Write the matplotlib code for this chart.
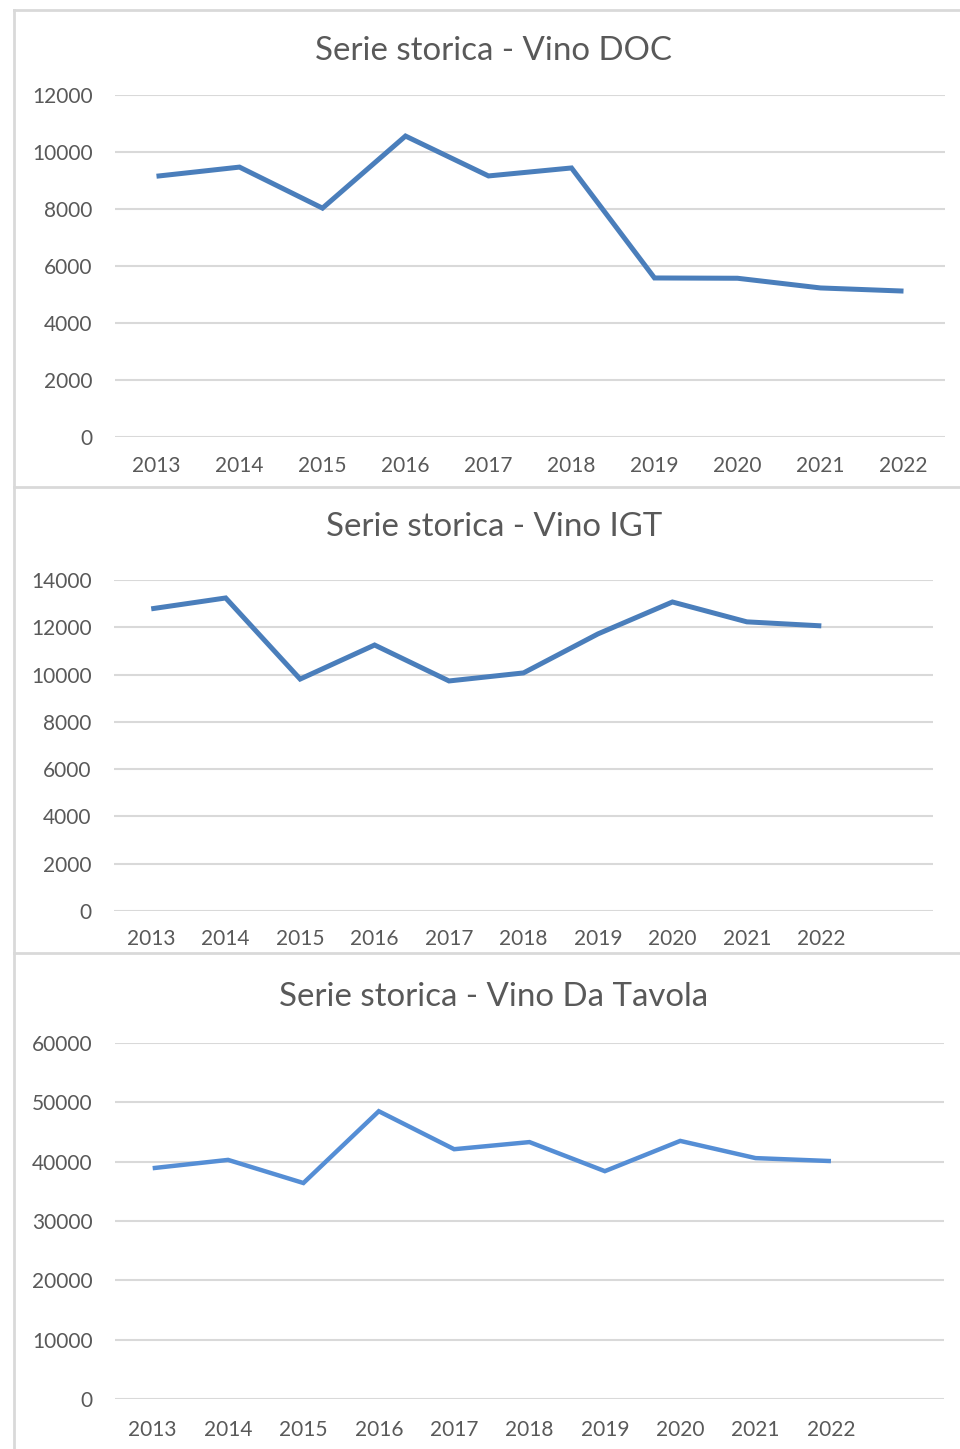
import matplotlib
matplotlib.use("Agg")
import matplotlib.pyplot as plt
from matplotlib.lines import Line2D

# Historical series (2013-2022)
years = ["2013", "2014", "2015", "2016", "2017", "2018", "2019", "2020", "2021", "2022"]
doc_values = [9150, 9470, 8030, 10560, 9160, 9440, 5580, 5570, 5230, 5120]
igt_values = [12780, 13240, 9810, 11250, 9730, 10070, 11720, 13070, 12230, 12060]
tavola_values = [38900, 40300, 36400, 48500, 42100, 43300, 38400, 43500, 40600, 40100]

titles = ["Serie storica - Vino DOC", "Serie storica - Vino IGT", "Serie storica - Vino Da Tavola"]

W, H = 960, 1449
FONT = ["Lato", "DejaVu Sans"]
TEXT = "#595959"
GRID = "#D9D9D9"

plt.rcParams["font.family"] = FONT

fig = plt.figure(figsize=(W / 100, H / 100), dpi=100)
fig.patch.set_facecolor("white")


def add_px_axes(x0, x1, y0, y1):
    return fig.add_axes([x0 / W, 1 - y1 / H, (x1 - x0) / W, (y1 - y0) / H])


def draw_chart(box, values, ymax, step, ncat, color, lw, title, title_y, tick_pad_x, tick_pad_y):
    x0, x1, y0, y1 = box
    ax = add_px_axes(x0, x1, y0, y1)
    ax.set_facecolor("none")
    xs = list(range(len(values)))
    ax.plot(xs, values, color=color, lw=lw, solid_joinstyle="miter", solid_capstyle="butt",
            clip_on=False, zorder=3)
    ax.set_xlim(-0.5, ncat - 0.5)
    ax.set_ylim(0, ymax)
    ax.set_yticks(range(0, ymax + 1, step))
    ax.set_xticks(range(len(years)))
    ax.set_xticklabels(years)
    ax.grid(axis="y", color=GRID, lw=1.5, zorder=1)
    ax.set_axisbelow(True)
    for s in ax.spines.values():
        s.set_visible(False)
    ax.tick_params(axis="both", length=0, labelsize=15, labelcolor=TEXT)
    ax.tick_params(axis="y", pad=tick_pad_x)
    ax.tick_params(axis="x", pad=tick_pad_y)
    fig.text(494 / W, 1 - title_y / H, title, ha="center", va="center",
             fontsize=23.8, color=TEXT)
    return ax


draw_chart((115, 945, 95, 437), doc_values, 12000, 2000, 10, "#4A7EBB", 3.6,
           titles[0], 51, 16, 14)
draw_chart((114, 933, 580, 911), igt_values, 14000, 2000, 11, "#4A7EBB", 3.6,
           titles[1], 527, 16, 13)
draw_chart((115, 944, 1043, 1399), tavola_values, 60000, 10000, 11, "#558ED5", 3.2,
           titles[2], 997, 16, 15)

# Chart frames
border = "#D9D9D9"
for (xa, ya, xb, yb) in [(14, 10, 960, 10), (14, 10, 14, 1449),
                         (14, 487, 960, 487), (14, 953, 960, 953)]:
    fig.add_artist(Line2D([xa / W, xb / W], [1 - ya / H, 1 - yb / H],
                          color=border, lw=2, transform=fig.transFigure))

fig.savefig("out.png", dpi=100, facecolor="white")
